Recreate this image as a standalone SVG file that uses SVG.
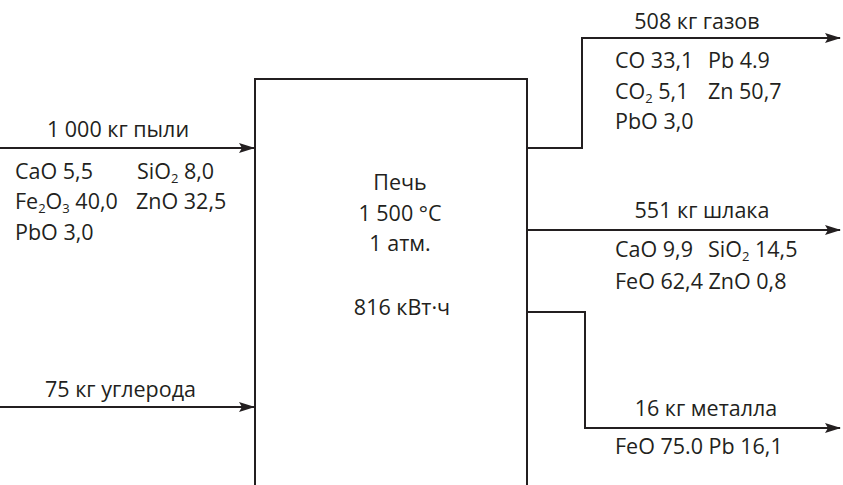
<svg xmlns="http://www.w3.org/2000/svg" width="843" height="485" viewBox="0 0 843 485">
<style>
text{font-family:"Open Sans","Noto Sans",sans-serif;font-size:21.5px;fill:#231f20}
.c{text-anchor:middle}
.s{font-size:13px}
.ln{stroke:#231f20;stroke-width:2;fill:none}
</style>
<defs>
<marker id="ah" markerWidth="16" markerHeight="10" refX="15" refY="5" orient="auto" markerUnits="userSpaceOnUse">
<path d="M0,0 L16,5 L0,10 L3,5 Z" fill="#231f20"/>
</marker>
</defs>
<rect width="843" height="485" fill="#fff"/>
<g id="furnace">
<path class="ln" d="M255,486 V79 H527 V486"/>
<text class="c" x="400" y="190">Печь</text>
<text class="c" x="400" y="221">1 500 °C</text>
<text class="c" x="400" y="251">1 атм.</text>
<text class="c" x="402" y="315">816 кВт·ч</text>
</g>
<g id="connectors">
<path class="ln" d="M0,148 H254" marker-end="url(#ah)"/>
<path class="ln" d="M0,407 H254" marker-end="url(#ah)"/>
<path class="ln" d="M527,148 H582 V38 H840" marker-end="url(#ah)"/>
<path class="ln" d="M527,230 H840" marker-end="url(#ah)"/>
<path class="ln" d="M527,312 H585 V428 H840" marker-end="url(#ah)"/>
</g>
<g id="dust">
<text class="c" x="118" y="137">1 000 кг пыли</text>
<text x="15" y="179">CaO 5,5</text>
<text x="137" y="179">SiO<tspan class="s" dy="4">2</tspan><tspan dy="-4"> 8,0</tspan></text>
<text x="15" y="209">Fe<tspan class="s" dy="4">2</tspan><tspan dy="-4">O</tspan><tspan class="s" dy="4">3</tspan><tspan dy="-4"> 40,0</tspan></text>
<text x="136" y="209">ZnO 32,5</text>
<text x="15" y="240">PbO 3,0</text>
</g>
<g id="carbon">
<text x="45" y="397">75 кг углерода</text>
</g>
<g id="gases">
<text class="c" x="697" y="29">508 кг газов</text>
<text x="615" y="68">CO 33,1</text>
<text x="708" y="68">Pb 4.9</text>
<text x="615" y="99">CO<tspan class="s" dy="4">2</tspan><tspan dy="-4"> 5,1</tspan></text>
<text x="708" y="99">Zn 50,7</text>
<text x="615" y="129">PbO 3,0</text>
</g>
<g id="slag">
<text class="c" x="702" y="218">551 кг шлака</text>
<text x="615" y="257">CaO 9,9</text>
<text x="708" y="257">SiO<tspan class="s" dy="4">2</tspan><tspan dy="-4"> 14,5</tspan></text>
<text x="615" y="289">FeO 62,4 ZnO 0,8</text>
</g>
<g id="metal">
<text class="c" x="706" y="416">16 кг металла</text>
<text x="615" y="454">FeO 75.0 Pb 16,1</text>
</g>
</svg>
